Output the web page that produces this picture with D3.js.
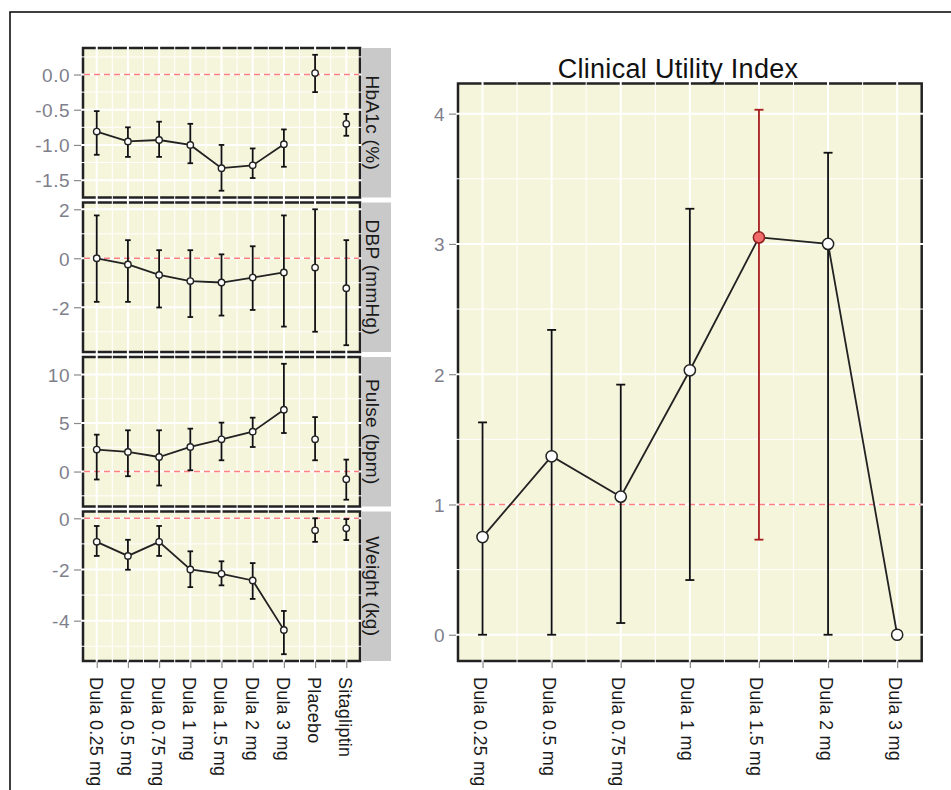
<!DOCTYPE html>
<html>
<head>
<meta charset="utf-8">
<script src="https://cdn.jsdelivr.net/npm/d3@7"></script>
<style>
  body { margin: 0; background: #fff; }
  svg { display: block; }
</style>
</head>
<body>
<script>
// arms / categories
const doses = ["Dula 0.25 mg", "Dula 0.5 mg", "Dula 0.75 mg", "Dula 1 mg", "Dula 1.5 mg", "Dula 2 mg", "Dula 3 mg"]
const arms = [...doses, "Placebo", "Sitagliptin"]
const endpoints = ["HbA1c (%)", "DBP (mmHg)", "Pulse (bpm)", "Weight (kg)"]

// change from baseline, mean and interval per arm
const hba1cMean = [-0.81, -0.95, -0.93, -1.00, -1.33, -1.29, -0.99, 0.02, -0.70]
const hba1cLow  = [-1.14, -1.17, -1.17, -1.26, -1.65, -1.47, -1.31, -0.25, -0.87]
const hba1cHigh = [-0.52, -0.75, -0.67, -0.70, -1.00, -1.05, -0.78, 0.28, -0.56]

const dbpMean = [0.00, -0.25, -0.68, -0.93, -0.99, -0.79, -0.58, -0.38, -1.22]
const dbpLow  = [-1.78, -1.78, -2.01, -2.40, -2.34, -2.11, -2.79, -3.00, -3.55]
const dbpHigh = [1.75, 0.74, 0.33, 0.33, 0.16, 0.49, 1.75, 2.00, 0.74]

const pulseMean = [2.26, 2.02, 1.50, 2.53, 3.32, 4.11, 6.37, 3.32, -0.79]
const pulseLow  = [-0.82, -0.48, -1.44, 0.13, 1.16, 2.53, 3.97, 1.16, -2.90]
const pulseHigh = [3.80, 4.25, 4.25, 4.42, 5.04, 5.55, 11.10, 5.61, 1.23]

const weightMean = [-0.92, -1.47, -0.92, -2.00, -2.17, -2.43, -4.36, -0.47, -0.39]
const weightLow  = [-1.47, -2.01, -1.47, -2.69, -2.62, -3.15, -5.31, -0.92, -0.85]
const weightHigh = [-0.30, -0.84, -0.30, -1.29, -1.68, -1.75, -3.62, 0.00, -0.03]

// clinical utility index per dose
const cuiMean = [0.75, 1.37, 1.06, 2.03, 3.05, 3.00, 0.00]
const cuiLow  = [0.00, 0.00, 0.09, 0.42, 0.73, 0.00, 0.00]
const cuiHigh = [1.63, 2.34, 1.92, 3.27, 4.03, 3.70, 0.00]
const bestDose = "Dula 1.5 mg"

// tick values and labels
const hba1cTicks = [0, -0.5, -1, -1.5], hba1cTickLabels = ["0.0", "-0.5", "-1.0", "-1.5"]
const dbpTicks = [2, 0, -2], dbpTickLabels = ["2", "0", "-2"]
const pulseTicks = [10, 5, 0], pulseTickLabels = ["10", "5", "0"]
const weightTicks = [0, -2, -4], weightTickLabels = ["0", "-2", "-4"]
const cuiTicks = [0, 1, 2, 3, 4], cuiTickLabels = ["0", "1", "2", "3", "4"]

const font = "'Liberation Sans', Arial, Helvetica, sans-serif"
const W = 951, H = 790

const svg = d3.select("body").append("svg")
    .attr("width", W).attr("height", H)
    .style("font-family", font)

// outer frame (only top and left are in view)
svg.append("path")
    .attr("d", `M10,${H} V12 H${W}`)
    .attr("fill", "none").attr("stroke", "#000").attr("stroke-width", 1.5)

// expand like ggplot: 5% each side of the data range
const expand = (lo, hi) => { const r = hi - lo; return [lo - r * 0.05, hi + r * 0.05] }

function midpoints(vals) {
    const m = []
    for (let i = 0; i < vals.length - 1; i++) m.push((vals[i] + vals[i + 1]) / 2)
    return m
}

function panel(g, o) {
    const [x0, x1] = o.x.range()
    const [y1, y0] = o.y.range()
    const xs = o.x.domain().map(o.x)
    const ymaj = o.ticks
    const step = ymaj[1] - ymaj[0]
    const ymin = []
    const [dlo, dhi] = o.y.domain()
    for (let v = ymaj[0] - step * 4.5; ; v += step) {
        if ((step > 0 && v > dhi + Math.abs(step)) || (step < 0 && v < dlo - Math.abs(step))) break
        if (v >= dlo && v <= dhi && !ymaj.some(t => Math.abs(t - v) < 1e-9)) ymin.push(v)
        if (ymin.length > 40) break
    }

    g.append("rect")
        .attr("x", x0).attr("y", y0).attr("width", x1 - x0).attr("height", y1 - y0)
        .attr("fill", "#f5f5dc")
    g.append("rect")
        .attr("x", x0).attr("y", y0).attr("width", x1 - x0).attr("height", y1 - y0)
        .attr("fill", "none").attr("stroke", "#222").attr("stroke-width", 2.5)

    // grid drawn over the border, that is why it looks dashed
    const ext = 2
    g.append("g").selectAll("line").data(midpoints(xs)).join("line")
        .attr("x1", d => d).attr("x2", d => d).attr("y1", y0 - ext).attr("y2", y1 + ext)
        .attr("stroke", "#fff").attr("stroke-width", 1)
    g.append("g").selectAll("line").data(ymin).join("line")
        .attr("y1", d => o.y(d)).attr("y2", d => o.y(d)).attr("x1", x0 - ext).attr("x2", x1 + ext)
        .attr("stroke", "#fff").attr("stroke-width", 1)
    g.append("g").selectAll("line").data(xs).join("line")
        .attr("x1", d => d).attr("x2", d => d).attr("y1", y0 - ext).attr("y2", y1 + ext)
        .attr("stroke", "#fff").attr("stroke-width", 2)
    g.append("g").selectAll("line").data(ymaj).join("line")
        .attr("y1", d => o.y(d)).attr("y2", d => o.y(d)).attr("x1", x0 - ext).attr("x2", x1 + ext)
        .attr("stroke", "#fff").attr("stroke-width", 2)

    // reference line
    g.append("line")
        .attr("x1", x0 + 1).attr("x2", x1 - 1).attr("y1", o.y(o.ref)).attr("y2", o.y(o.ref))
        .attr("stroke", "#ff7f7f").attr("stroke-width", 1.5).attr("stroke-dasharray", "6,4")

    // y axis
    const ax = g.append("g")
        .attr("transform", `translate(${x0 - 2},0)`)
        .call(d3.axisLeft(o.y).tickValues(o.ticks).tickFormat((d, i) => o.labels[i])
            .tickSize(7).tickPadding(4))
    ax.select(".domain").remove()
    ax.selectAll(".tick line").attr("stroke", "#8a8a8a").attr("stroke-width", 1.2)
    ax.selectAll(".tick text").attr("fill", "#7f7f8c").style("font-size", "19px")
        .style("letter-spacing", "0.5px")
        .style("font-family", font).attr("dy", "0.36em")
}

function xAxis(g, x, y, dy) {
    const ax = g.append("g")
        .attr("transform", `translate(0,${y})`)
        .call(d3.axisBottom(x).tickSize(7))
    ax.select(".domain").remove()
    ax.selectAll(".tick line").attr("stroke", "#8a8a8a").attr("stroke-width", 1.2)
    ax.selectAll(".tick text")
        .attr("transform", "rotate(90)")
        .attr("x", 16).attr("y", 0).attr("dy", dy)
        .attr("text-anchor", "start")
        .attr("fill", "#1a1a1a").style("font-size", "18px").style("font-family", font)
        .style("letter-spacing", "0.2px")
}

function errorBars(g, x, y, cats, mean, low, high, opt) {
    const rows = cats.map((c, i) => ({c, m: mean[i], lo: low[i], hi: high[i]}))
    const bars = g.append("g").selectAll("g").data(rows.filter(d => d.hi > d.lo)).join("g")
        .attr("stroke", d => opt.barColor(d)).attr("stroke-width", opt.width)
    bars.append("line")
        .attr("x1", d => x(d.c)).attr("x2", d => x(d.c))
        .attr("y1", d => y(d.lo)).attr("y2", d => y(d.hi))
    bars.append("line")
        .attr("x1", d => x(d.c) - opt.cap).attr("x2", d => x(d.c) + opt.cap)
        .attr("y1", d => y(d.lo)).attr("y2", d => y(d.lo))
    bars.append("line")
        .attr("x1", d => x(d.c) - opt.cap).attr("x2", d => x(d.c) + opt.cap)
        .attr("y1", d => y(d.hi)).attr("y2", d => y(d.hi))

    const lineRows = rows.filter(d => doses.includes(d.c))
    g.append("path")
        .datum(lineRows)
        .attr("d", d3.line().x(d => x(d.c)).y(d => y(d.m)))
        .attr("fill", "none").attr("stroke", "#222").attr("stroke-width", opt.lineWidth)

    g.append("g").selectAll("circle").data(rows).join("circle")
        .attr("cx", d => x(d.c)).attr("cy", d => y(d.m)).attr("r", opt.r)
        .attr("fill", d => opt.fill(d)).attr("stroke", d => opt.stroke(d))
        .attr("stroke-width", opt.pointStroke)
}

// ---- left: faceted endpoints ----
const xLeft = d3.scalePoint().domain(arms).range([83, 360]).padding(0.44)
const panelTop = [48, 202.5, 357, 511.5], panelH = 149.5
const facets = [
    {mean: hba1cMean, low: hba1cLow, high: hba1cHigh, ticks: hba1cTicks, labels: hba1cTickLabels},
    {mean: dbpMean, low: dbpLow, high: dbpHigh, ticks: dbpTicks, labels: dbpTickLabels},
    {mean: pulseMean, low: pulseLow, high: pulseHigh, ticks: pulseTicks, labels: pulseTickLabels},
    {mean: weightMean, low: weightLow, high: weightHigh, ticks: weightTicks, labels: weightTickLabels},
]

facets.forEach((f, k) => {
    const top = panelTop[k]
    const y = d3.scaleLinear()
        .domain(expand(d3.min(f.low), d3.max(f.high)))
        .range([top + panelH, top])
    const g = svg.append("g")
    panel(g, {x: xLeft, y, ticks: f.ticks, labels: f.labels, ref: 0})
    errorBars(g, xLeft, y, arms, f.mean, f.low, f.high, {
        barColor: () => "#111", width: 1.8, cap: 2.8, lineWidth: 1.8,
        r: 3.2, fill: () => "#fff", stroke: () => "#222", pointStroke: 1.4
    })
    // strip
    g.append("rect")
        .attr("x", 361.5).attr("y", top).attr("width", 29.5).attr("height", panelH)
        .attr("fill", "#c9c9c9")
    g.append("text")
        .attr("transform", `translate(373,${top + panelH / 2}) rotate(90)`)
        .attr("text-anchor", "middle").attr("dy", "0.36em")
        .attr("fill", "#1a1a1a").style("font-size", "19px")
        .style("letter-spacing", "0.3px")
        .text(endpoints[k])
    if (k === facets.length - 1) xAxis(g, xLeft, top + panelH, "0.42em")
})

// ---- right: clinical utility index ----
const xRight = d3.scalePoint().domain(doses).range([458, 921.7]).padding(0.355)
const yRight = d3.scaleLinear()
    .domain(expand(d3.min(cuiLow), d3.max(cuiHigh)))
    .range([661, 83.5])
const gr = svg.append("g")
panel(gr, {x: xRight, y: yRight, ticks: cuiTicks, labels: cuiTickLabels, ref: 1})
errorBars(gr, xRight, yRight, doses, cuiMean, cuiLow, cuiHigh, {
    barColor: d => d.c === bestDose ? "#a81c1c" : "#111", width: 1.8, cap: 4.5, lineWidth: 1.8,
    r: 5.6, fill: d => d.c === bestDose ? "#f26b6b" : "#fff",
    stroke: d => d.c === bestDose ? "#8f2020" : "#222", pointStroke: 1.5
})
xAxis(gr, xRight, 661, "0.5em")

svg.append("text")
    .attr("x", 678).attr("y", 78)
    .attr("text-anchor", "middle")
    .attr("fill", "#111").style("font-size", "27px")
    .style("letter-spacing", "0.3px")
    .text("Clinical Utility Index")
</script>
</body>
</html>
